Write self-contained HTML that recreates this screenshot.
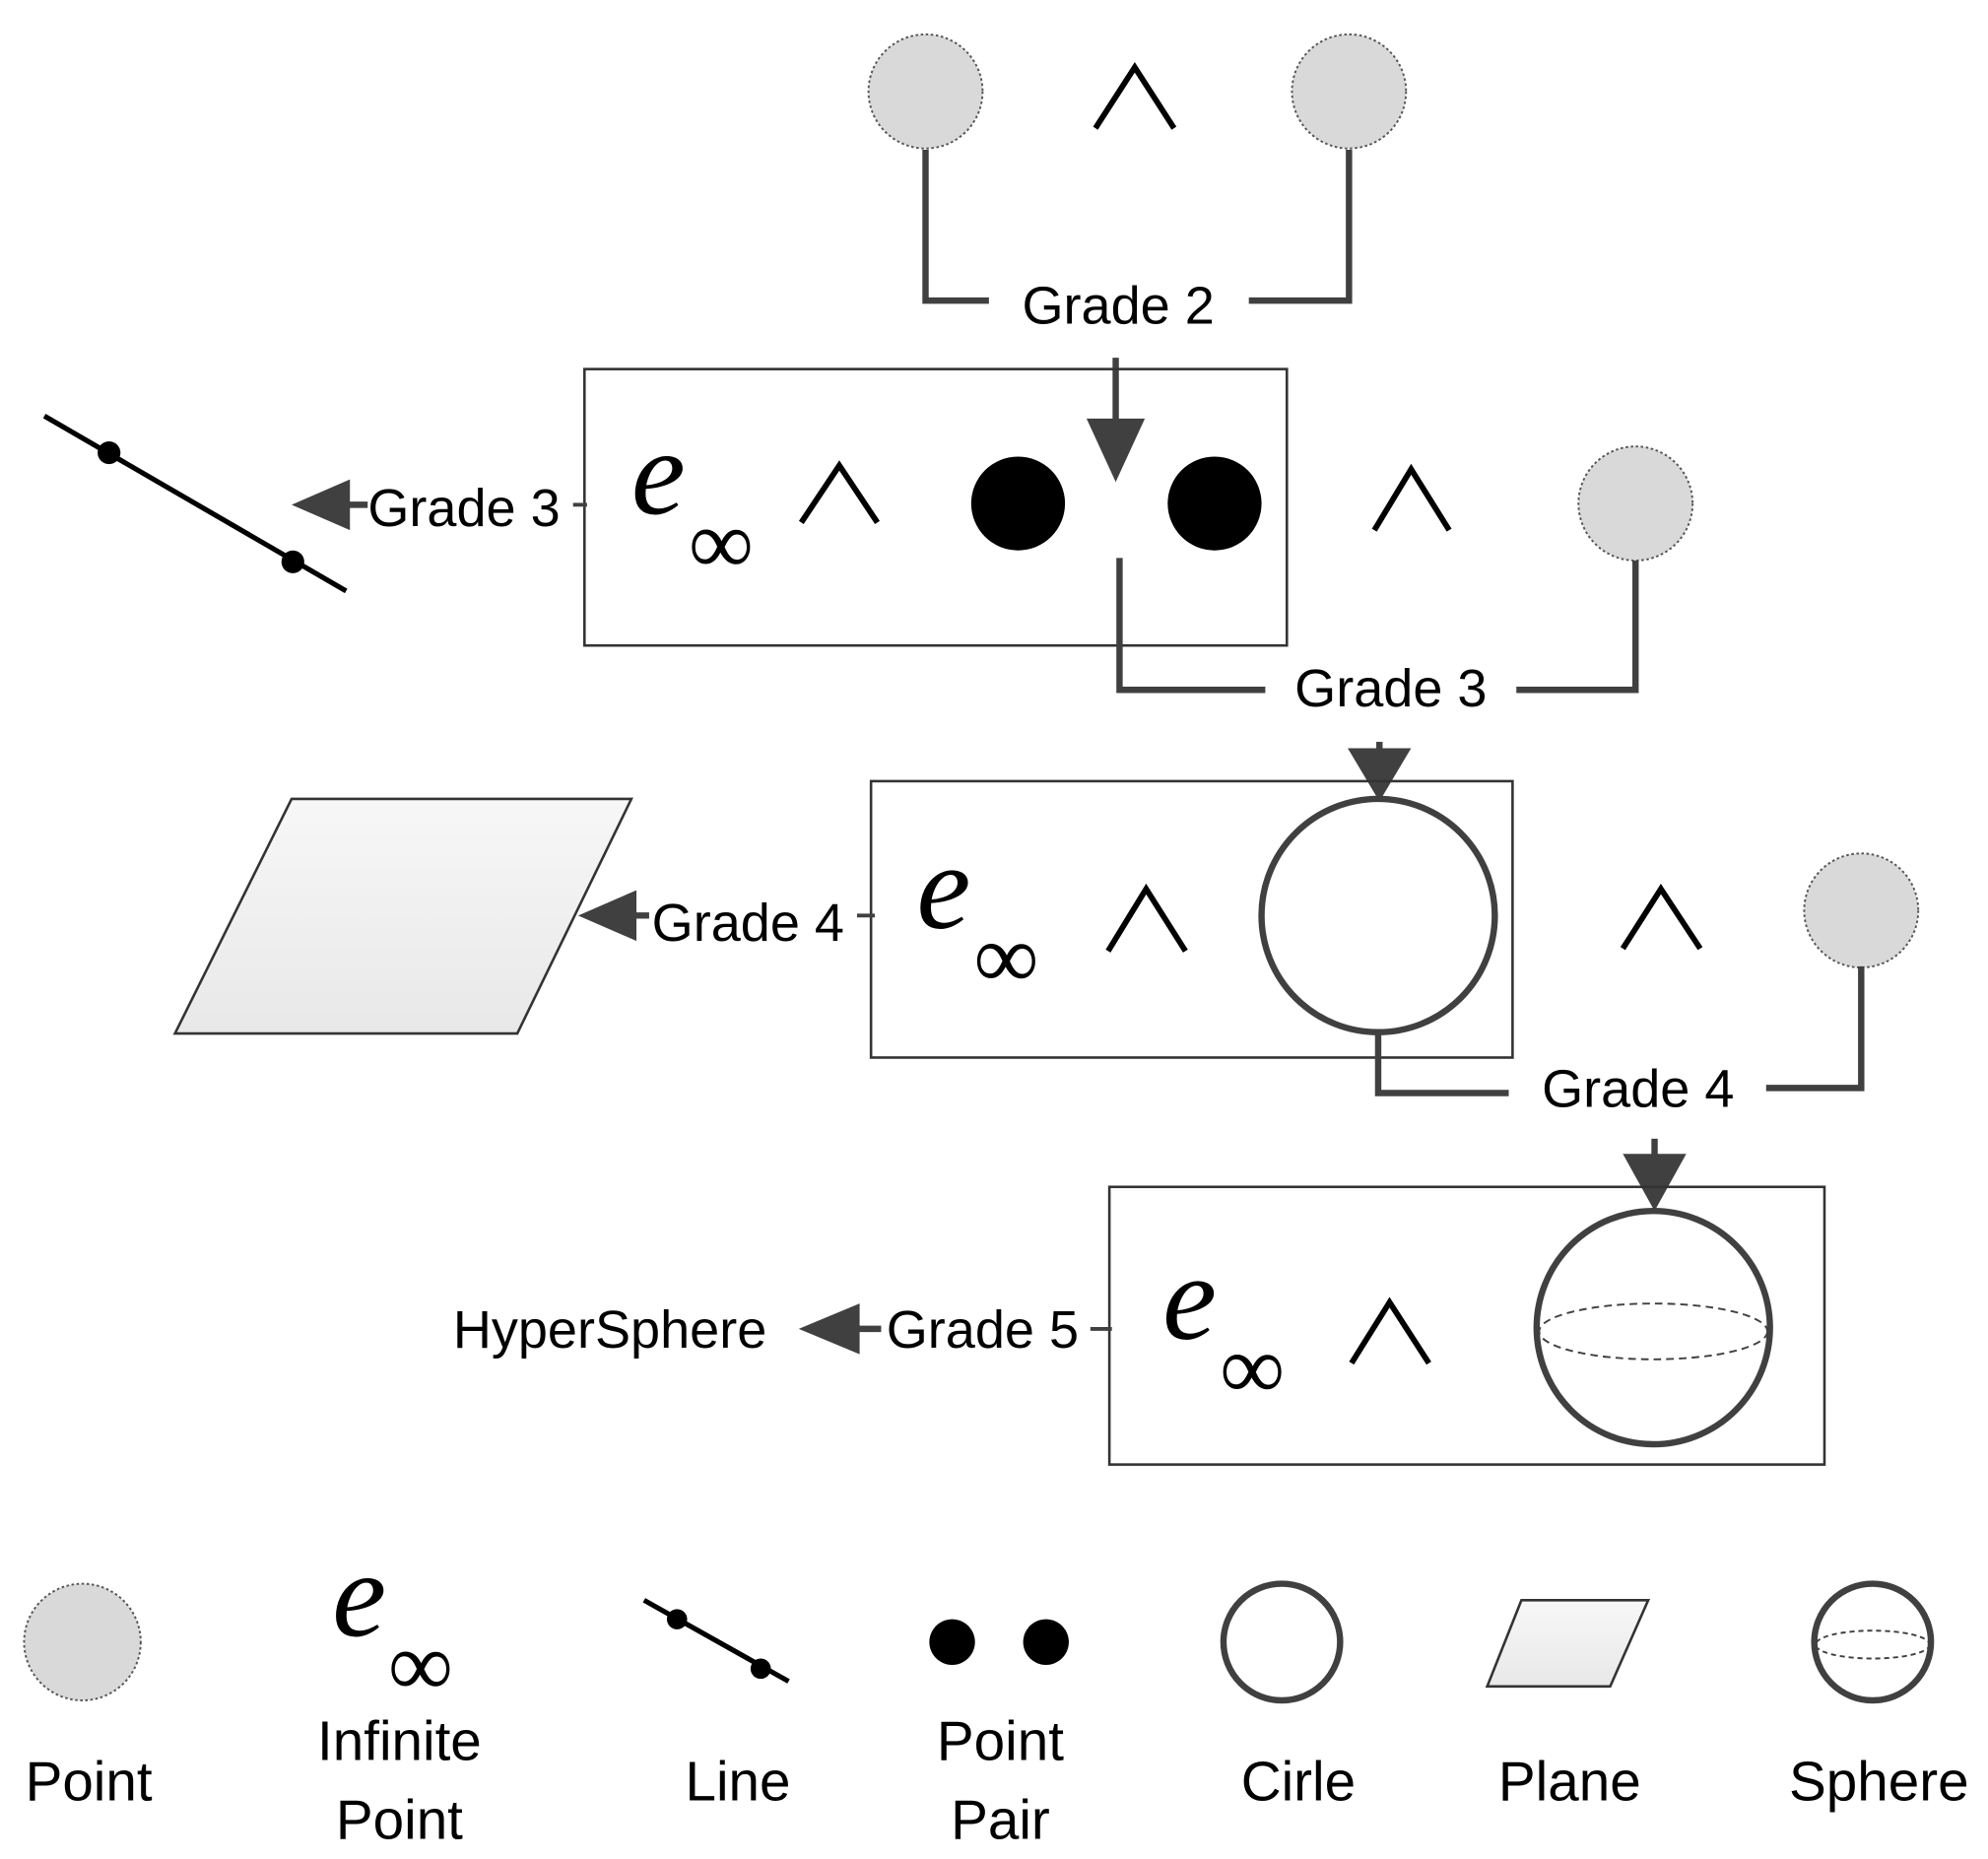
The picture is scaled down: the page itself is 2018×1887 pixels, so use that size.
<!DOCTYPE html>
<html><head><meta charset="utf-8"><style>
html,body{margin:0;padding:0;background:#fff;}
svg{display:block;}
.t{font-family:"Liberation Sans",sans-serif;font-size:42px;fill:#000;text-anchor:middle;}
.l{font-family:"Liberation Sans",sans-serif;font-size:44px;fill:#000;text-anchor:middle;}
.e{font-family:"Liberation Serif",serif;font-style:italic;font-size:96px;fill:#000;}
.inf{font-family:"Liberation Serif",serif;font-size:72px;fill:#000;}
.c{fill:none;stroke:#404040;stroke-width:5;}
.w{fill:none;stroke:#000;stroke-width:4.5;}
.g{fill:#d9d9d9;stroke:#555;stroke-width:1.5;stroke-dasharray:2 2;}
.box{fill:none;stroke:#333;stroke-width:2;}
.ar{fill:#404040;}
</style></head><body>
<svg width="2018" height="1887" viewBox="0 0 1568 1466" xmlns="http://www.w3.org/2000/svg">
<defs><linearGradient id="pg" x1="0" y1="0" x2="0" y2="1"><stop offset="0" stop-color="#f7f7f7"/><stop offset="1" stop-color="#e8e8e8"/></linearGradient></defs>
<circle class="g" cx="730" cy="72" r="45"/>
<circle class="g" cx="1064" cy="72" r="45"/>
<polyline class="w" points="864,101 895,53 926,101"/>
<polyline class="c" points="730,118 730,237 780,237"/>
<polyline class="c" points="985,237 1064,237 1064,118"/>
<text class="t" x="882" y="255">Grade 2</text>
<line class="c" x1="880" y1="282" x2="880" y2="340"/>
<polygon class="ar" points="857,330 903,330 880,380"/>
<rect class="box" x="461" y="291" width="554" height="218"/>
<text class="e" x="498" y="405">e</text><text class="inf" x="543" y="452">∞</text>
<polyline class="w" points="632,412 662,367 692,412"/>
<circle cx="803" cy="397" r="37" fill="#000"/>
<circle cx="958" cy="397" r="37" fill="#000"/>
<polyline class="w" points="1084,418 1113,370 1143,418"/>
<circle class="g" cx="1290" cy="397" r="45"/>
<polyline class="c" points="883,440 883,544 998,544"/>
<polyline class="c" points="1196,544 1290,544 1290,442"/>
<text class="t" x="1097" y="557">Grade 3</text>
<line class="c" x1="1088" y1="585" x2="1088" y2="600"/>
<polygon class="ar" points="1063,590 1113,590 1088,632"/>
<text class="t" x="366" y="415">Grade 3</text>
<line class="c" x1="452" y1="398" x2="463" y2="398" style="stroke-width:3"/>
<line class="c" x1="260" y1="398" x2="290" y2="398"/>
<polygon class="ar" points="230,398 276,378 276,418"/>
<line x1="35" y1="328" x2="273" y2="466" stroke="#000" stroke-width="4"/>
<circle cx="86" cy="357" r="9" fill="#000"/><circle cx="231" cy="443" r="9" fill="#000"/>
<rect class="box" x="687" y="616" width="506" height="218"/>
<text class="e" x="723" y="732">e</text><text class="inf" x="768" y="779">∞</text>
<polyline class="w" points="874,750 904,701 935,750"/>
<circle cx="1087" cy="722" r="92" fill="#fff" stroke="#404040" stroke-width="5"/>
<polyline class="w" points="1280,748 1310,701 1341,748"/>
<circle class="g" cx="1468" cy="718" r="45"/>
<polyline class="c" points="1087,814 1087,862 1190,862"/>
<polyline class="c" points="1393,858 1468,858 1468,762"/>
<text class="t" x="1292" y="873">Grade 4</text>
<line class="c" x1="1305" y1="898" x2="1305" y2="915"/>
<polygon class="ar" points="1280,910 1330,910 1305,955"/>
<text class="t" x="590" y="742">Grade 4</text>
<line class="c" x1="676" y1="722" x2="690" y2="722" style="stroke-width:3"/>
<line class="c" x1="490" y1="722" x2="512" y2="722"/>
<polygon class="ar" points="456,722 502,702 502,742"/>
<polygon points="230,630 498,630 408,815 138,815" fill="url(#pg)" stroke="#333" stroke-width="2"/>
<rect class="box" x="875" y="936" width="564" height="219"/>
<text class="e" x="917" y="1056">e</text><text class="inf" x="962" y="1103">∞</text>
<polyline class="w" points="1066,1075 1096,1027 1127,1075"/>
<circle cx="1304" cy="1047" r="92" fill="#fff" stroke="#404040" stroke-width="5"/>
<ellipse cx="1304" cy="1050" rx="90" ry="22" fill="none" stroke="#404040" stroke-width="1.5" stroke-dasharray="6 4"/>
<text class="t" x="775" y="1063">Grade 5</text>
<line class="c" x1="860" y1="1048" x2="877" y2="1048" style="stroke-width:3"/>
<line class="c" x1="665" y1="1048" x2="695" y2="1048"/>
<polygon class="ar" points="630,1048 678,1028 678,1068"/>
<text class="t" x="481" y="1063">HyperSphere</text>
<circle class="g" cx="65" cy="1295" r="46"/>
<text class="e" x="262" y="1290">e</text><text class="inf" x="306" y="1337">∞</text>
<line x1="508" y1="1262" x2="622" y2="1326" stroke="#000" stroke-width="4"/>
<circle cx="534" cy="1277" r="8" fill="#000"/><circle cx="600" cy="1316" r="8" fill="#000"/>
<circle cx="751" cy="1295" r="18" fill="#000"/><circle cx="825" cy="1295" r="18" fill="#000"/>
<circle cx="1011" cy="1295" r="46" fill="#fff" stroke="#404040" stroke-width="5"/>
<polygon points="1200,1262 1300,1262 1270,1330 1173,1330" fill="url(#pg)" stroke="#333" stroke-width="2"/>
<circle cx="1477" cy="1295" r="46" fill="#fff" stroke="#404040" stroke-width="5"/>
<ellipse cx="1477" cy="1297" rx="45" ry="11" fill="none" stroke="#404040" stroke-width="1.5" stroke-dasharray="4 3"/>
<text class="l" x="70" y="1420">Point</text>
<text class="l" x="315" y="1388">Infinite</text>
<text class="l" x="315" y="1450">Point</text>
<text class="l" x="582" y="1420">Line</text>
<text class="l" x="789" y="1388">Point</text>
<text class="l" x="789" y="1450">Pair</text>
<text class="l" x="1024" y="1420">Cirle</text>
<text class="l" x="1238" y="1420">Plane</text>
<text class="l" x="1482" y="1420">Sphere</text>
</svg>
</body></html>
